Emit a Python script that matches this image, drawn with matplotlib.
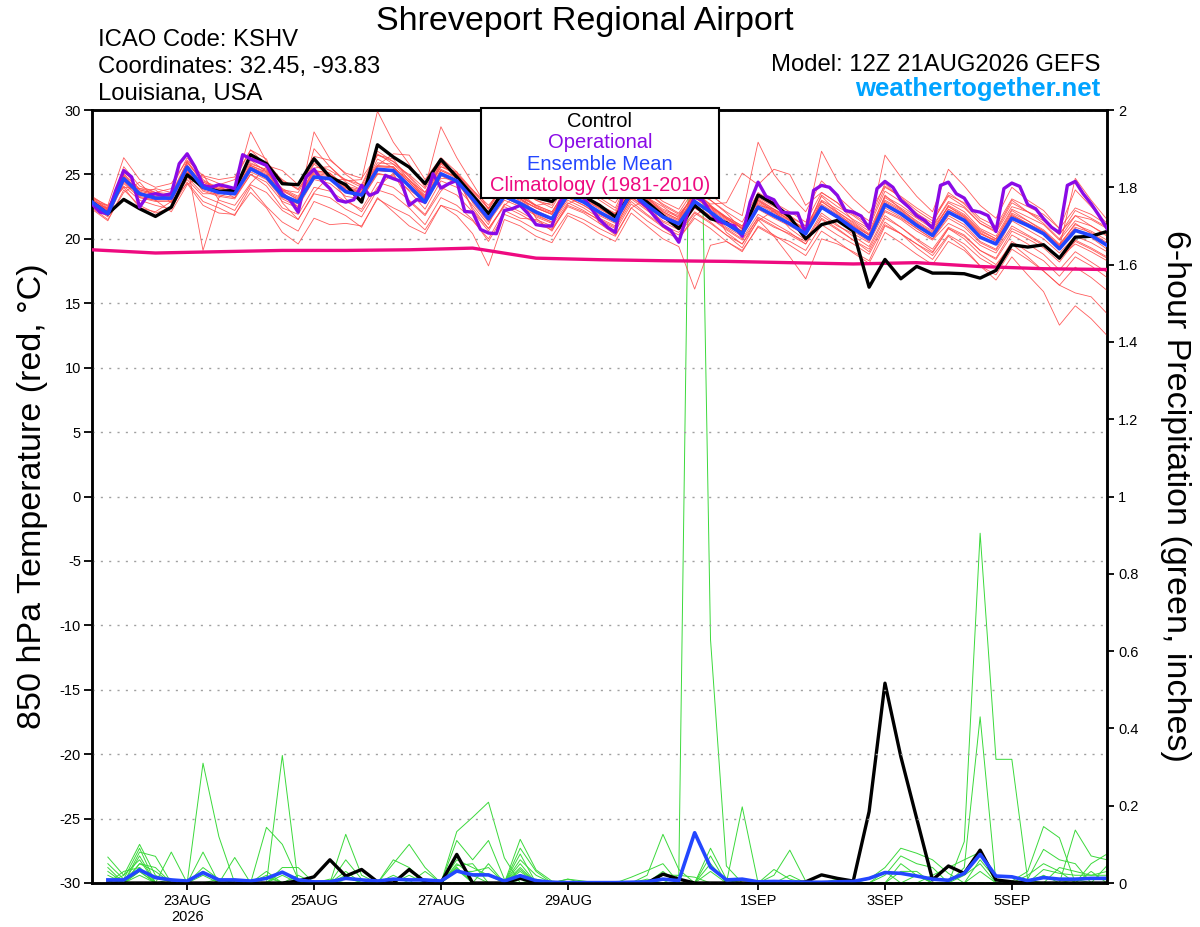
import matplotlib
matplotlib.use('Agg')
import matplotlib.pyplot as plt
from matplotlib.patches import Rectangle
from datetime import datetime, timedelta

plt.rcParams['font.family'] = ['Liberation Sans', 'DejaVu Sans']
plt.rcParams['axes.unicode_minus'] = False

# ---------------- data ----------------
run_start = datetime(2026, 8, 21, 12)
n_6h = 65      # 6-hourly steps (ensemble, control, mean)
n_3h = 129     # 3-hourly steps (operational)
n_day = 17     # daily climatology

# Ensemble mean 850 hPa temperature (C), 6-hourly
mean_temp = [22.85, 21.95, 24.67, 23.5, 23.16, 23.16, 25.57, 24.0, 23.6, 23.5, 25.44, 24.8,
             23.37, 22.85, 24.8, 24.67, 23.65, 23.4, 25.4, 25.3, 24.1, 22.85, 25.05, 24.5,
             23.1, 21.56, 23.3, 22.75, 22.07, 21.56, 23.4, 22.85, 22.07, 21.4, 23.6, 22.6,
             21.7, 21.17, 22.9, 22.07, 21.17, 20.4, 22.46, 21.8, 21.17, 20.4, 22.46, 21.7,
             20.8, 20.0, 22.65, 21.95, 21.04, 20.26, 22.07, 21.43, 20.13, 19.6, 21.6, 21.04,
             20.4, 19.23, 20.65, 20.26, 19.5]

# Control member temperature, 6-hourly
control_temp = [22.85, 21.95, 23.06, 22.34, 21.74, 22.46, 24.97, 24.0, 23.68, 23.76, 26.53, 25.83,
                24.28, 24.2, 26.22, 24.8, 24.2, 22.85, 27.3, 26.35, 25.57, 24.28, 26.16, 24.8,
                23.37, 21.95, 23.8, 23.5, 23.2, 22.9, 24.0, 23.3, 22.6, 21.7, 23.5, 22.85,
                21.8, 20.8, 22.6, 21.56, 21.25, 20.4, 23.4, 22.7, 21.7, 20.0, 21.1, 21.43,
                20.6, 16.25, 18.4, 16.9, 17.86, 17.34, 17.34, 17.29, 16.95, 17.55, 19.54, 19.36,
                19.54, 18.5, 20.13, 20.2, 20.57]

# Operational run temperature, 3-hourly
oper_temp = [22.72, 22.07, 21.95, 23.76, 25.3, 24.8, 22.46, 23.37, 23.5, 23.37, 23.5, 25.83,
             26.6, 25.57, 24.15, 24.0, 24.2, 24.07, 23.9, 26.53, 26.2, 25.96, 25.7, 24.67,
             23.5, 23.0, 22.07, 24.8, 25.4, 24.5, 23.9, 23.0, 22.85, 23.03, 24.15, 23.37,
             23.63, 24.92, 24.67, 24.46, 22.6, 23.06, 22.85, 25.05, 23.94, 24.28, 24.53, 22.13,
             22.07, 20.73, 20.45, 20.4, 22.2, 22.34, 22.6, 21.95, 21.1, 21.0, 21.0, 22.85,
             23.5, 23.8, 23.2, 22.34, 21.5, 20.9, 20.5, 23.8, 24.5, 23.0, 22.46, 21.7,
             21.04, 20.65, 19.74, 21.8, 23.24, 23.0, 22.07, 21.35, 21.17, 21.0, 20.2, 22.85,
             24.4, 23.3, 23.03, 22.07, 22.0, 22.0, 20.4, 23.76, 24.15, 24.0, 23.37, 22.2,
             22.07, 21.77, 20.8, 23.9, 24.46, 24.0, 23.0, 22.46, 21.8, 21.43, 20.83, 24.15,
             24.4, 23.5, 23.16, 22.2, 22.07, 21.8, 20.57, 23.9, 24.33, 24.07, 22.65, 22.34,
             21.56, 20.9, 20.47, 24.15, 24.46, 23.5, 22.72, 21.8, 20.8]

# Climatology (1981-2010), daily
clim_temp = [19.15, 18.9, 19.0, 19.1, 19.1, 19.15, 19.28, 18.5, 18.38, 18.3, 18.25, 18.15,
             18.05, 18.15, 17.85, 17.68, 17.62]

# Individual ensemble members (temperature, 6-hourly)
ens01 = [22.6, 21.8, 24.9, 23.2, 23.0, 23.4, 25.8, 19.1, 23.2, 23.9, 28.3, 26.0, 24.5, 23.9, 25.3, 25.1,
         24.0, 23.6, 26.2, 25.5, 24.6, 23.2, 25.8, 24.9, 23.5, 22.0, 24.1, 23.4, 22.5, 22.0, 24.3, 23.5,
         22.6, 22.0, 24.5, 23.2, 22.1, 21.5, 23.8, 22.6, 21.6, 20.9, 23.1, 22.3, 21.4, 20.7, 23.3, 22.1,
         21.2, 20.3, 23.4, 22.3, 21.3, 20.5, 22.6, 21.9, 20.7, 20.0, 22.2, 21.4, 20.6, 19.5, 21.2, 20.4, 19.6]
ens02 = [22.9, 22.2, 25.3, 23.8, 23.5, 23.0, 26.0, 24.4, 23.9, 23.7, 26.1, 25.2, 23.8, 23.0, 25.5, 25.6,
         24.5, 24.6, 29.9, 27.5, 25.8, 24.0, 28.7, 26.3, 24.3, 22.3, 24.2, 23.1, 22.4, 21.9, 23.9, 23.0,
         22.4, 21.5, 24.0, 22.8, 21.9, 21.3, 23.4, 22.5, 21.6, 20.8, 23.0, 22.1, 21.2, 20.5, 22.9, 22.0,
         21.0, 20.1, 23.2, 22.4, 21.6, 20.8, 22.5, 21.7, 20.5, 19.8, 21.9, 21.2, 20.6, 19.4, 20.8, 20.1, 19.2]
ens03 = [23.1, 22.3, 24.5, 23.6, 23.3, 23.5, 25.2, 24.2, 24.1, 23.4, 25.8, 25.4, 23.5, 22.5, 28.3, 26.2,
         25.0, 24.1, 26.5, 26.0, 24.8, 23.4, 25.9, 25.1, 23.7, 22.4, 24.6, 23.9, 23.0, 22.6, 24.8, 24.0,
         23.2, 22.4, 25.0, 23.9, 22.9, 22.3, 24.2, 23.4, 22.5, 21.8, 27.5, 25.0, 23.4, 22.1, 24.5, 23.3,
         22.2, 21.4, 24.3, 23.1, 22.0, 21.2, 23.6, 22.7, 21.4, 20.7, 23.0, 22.1, 21.2, 20.0, 21.8, 21.0, 20.2]
ens04 = [22.3, 21.4, 23.8, 22.6, 22.0, 22.4, 24.4, 22.9, 22.4, 21.8, 24.0, 22.5, 21.3, 20.6, 22.9, 22.4,
         21.8, 20.9, 23.2, 22.1, 21.0, 20.4, 22.6, 21.8, 20.4, 17.9, 21.5, 21.0, 20.2, 19.7, 21.8, 21.2,
         20.4, 19.8, 22.0, 21.0, 20.0, 19.4, 16.1, 19.5, 19.8, 19.0, 21.0, 20.3, 19.5, 18.7, 20.6, 19.8,
         18.9, 18.1, 20.5, 19.7, 18.8, 18.0, 19.8, 19.1, 17.9, 17.2, 19.2, 18.4, 17.5, 16.4, 17.8, 17.0, 16.0]
ens05 = [23.2, 22.6, 26.3, 24.6, 24.0, 24.3, 26.1, 24.9, 24.6, 24.8, 26.9, 25.7, 25.3, 24.2, 26.4, 26.1,
         25.1, 24.7, 26.5, 26.2, 24.5, 23.6, 25.6, 25.2, 23.8, 22.6, 24.0, 23.2, 21.7, 21.2, 23.0, 22.4,
         21.6, 21.0, 23.1, 22.2, 21.3, 20.7, 22.4, 21.6, 20.8, 20.0, 21.9, 21.2, 20.5, 19.6, 21.6, 20.8,
         19.9, 19.0, 21.3, 20.4, 19.3, 18.4, 20.2, 19.3, 17.9, 16.8, 18.6, 17.2, 15.9, 13.3, 14.8, 13.8, 12.5]
ens06 = [22.4, 21.5, 23.6, 24.4, 23.0, 22.1, 24.2, 25.0, 23.0, 22.6, 24.3, 25.6, 22.8, 21.5, 23.6, 24.9,
         23.1, 22.1, 24.0, 25.1, 22.9, 21.8, 23.7, 24.9, 22.2, 20.8, 22.6, 23.6, 21.6, 20.6, 22.7, 23.3,
         21.2, 20.3, 22.4, 23.1, 20.9, 20.0, 21.8, 22.6, 20.5, 19.6, 21.4, 22.2, 20.8, 19.9, 22.0, 21.1,
         20.2, 19.4, 21.8, 20.9, 19.9, 19.0, 20.8, 20.0, 18.8, 18.0, 19.6, 18.6, 17.5, 16.4, 15.8, 15.5, 14.2]
ens07 = [22.7, 22.1, 24.8, 23.6, 23.2, 23.1, 25.7, 24.2, 23.7, 23.6, 25.6, 25.0, 23.5, 22.9, 25.0, 24.8,
         23.8, 23.6, 25.6, 25.6, 24.4, 23.1, 25.3, 24.8, 23.4, 22.0, 23.8, 23.2, 22.6, 22.1, 23.9, 23.3,
         22.5, 21.9, 24.1, 23.1, 22.2, 21.7, 23.5, 22.6, 21.7, 21.0, 23.2, 22.5, 21.8, 21.0, 26.8, 24.5,
         23.1, 22.0, 24.1, 23.2, 22.2, 21.4, 23.3, 22.5, 21.2, 20.6, 22.8, 22.1, 21.4, 20.3, 22.2, 21.6, 20.9]
ens08 = [22.9, 22.6, 24.0, 22.4, 22.1, 22.9, 24.3, 22.6, 22.0, 21.9, 23.6, 22.4, 20.5, 19.6, 21.6, 21.1,
         21.2, 21.0, 23.1, 22.4, 21.8, 20.7, 22.6, 22.2, 21.4, 20.0, 22.2, 21.6, 21.5, 21.0, 22.8, 22.2,
         21.4, 20.8, 22.9, 21.9, 21.0, 20.5, 22.1, 21.3, 20.3, 19.3, 21.5, 20.2, 18.6, 16.9, 20.0, 19.6,
         19.0, 18.3, 21.0, 20.4, 19.6, 18.9, 20.8, 20.2, 19.1, 18.5, 20.6, 20.0, 19.3, 18.2, 19.8, 19.2, 18.5]
ens09 = [23.2, 22.4, 25.0, 23.9, 23.6, 23.5, 26.0, 24.5, 24.0, 23.9, 25.9, 25.3, 23.9, 23.3, 25.3, 25.1,
         24.1, 23.8, 25.9, 25.8, 24.6, 23.3, 25.6, 25.0, 23.6, 22.1, 23.9, 23.3, 22.6, 22.1, 24.0, 23.4,
         22.6, 21.9, 24.2, 23.2, 22.3, 21.8, 23.5, 22.7, 22.8, 25.1, 24.2, 25.4, 25.0, 22.6, 23.6, 22.8,
         21.4, 20.6, 23.3, 22.6, 21.7, 20.9, 22.8, 22.1, 20.8, 20.2, 22.3, 21.7, 21.1, 19.9, 21.4, 21.0, 20.3]
ens10 = [22.6, 21.7, 24.3, 23.2, 22.9, 22.9, 25.2, 23.7, 23.3, 23.1, 25.0, 24.4, 22.9, 22.4, 27.0, 25.6,
         24.4, 23.8, 26.6, 25.8, 25.0, 23.9, 26.0, 24.7, 22.4, 20.8, 22.5, 21.9, 21.2, 20.7, 22.5, 22.0,
         21.2, 20.6, 22.7, 21.8, 20.9, 20.3, 22.0, 21.2, 20.3, 19.6, 21.7, 21.0, 20.3, 19.6, 21.5, 20.7,
         19.9, 19.2, 21.6, 20.9, 20.0, 19.2, 20.9, 20.3, 19.1, 18.4, 20.3, 19.6, 18.8, 17.6, 19.0, 18.2, 17.4]
ens11 = [22.8, 22.1, 24.9, 23.5, 23.3, 23.3, 25.5, 24.1, 23.6, 23.5, 25.6, 24.9, 23.3, 22.8, 24.9, 24.6,
         23.6, 23.4, 25.3, 25.2, 24.0, 22.7, 24.9, 24.3, 22.9, 21.4, 23.2, 22.6, 21.9, 21.3, 23.2, 22.6,
         21.8, 21.2, 23.3, 22.3, 21.4, 20.9, 22.6, 21.8, 20.9, 20.2, 22.3, 21.6, 21.0, 20.3, 22.4, 21.6,
         20.6, 19.8, 22.4, 21.7, 20.8, 20.0, 21.8, 21.1, 19.8, 19.2, 21.4, 20.7, 20.0, 18.9, 20.2, 19.7, 19.0]
ens12 = [22.7, 21.9, 24.5, 23.4, 23.2, 23.2, 25.4, 23.9, 24.2, 24.6, 26.9, 26.2, 23.2, 22.7, 24.7, 24.6,
         24.6, 24.0, 25.7, 26.6, 26.5, 24.6, 26.3, 25.2, 22.8, 21.3, 23.0, 22.5, 21.8, 21.3, 23.2, 22.6,
         21.9, 21.3, 23.6, 22.7, 21.8, 21.2, 23.2, 22.4, 21.5, 20.8, 23.0, 22.3, 21.7, 21.0, 23.0, 22.3,
         21.5, 20.8, 26.5, 24.8, 23.3, 22.1, 25.4, 24.1, 22.6, 21.6, 24.0, 23.0, 22.2, 20.8, 23.8, 22.5, 21.2]
ens13 = [23.0, 22.2, 24.7, 23.7, 23.4, 23.3, 25.7, 24.2, 23.8, 23.7, 25.7, 25.1, 23.7, 23.1, 25.1, 24.9,
         23.9, 23.6, 25.6, 25.5, 24.4, 23.1, 25.3, 24.7, 23.3, 21.8, 23.6, 23.0, 22.4, 21.9, 23.7, 23.1,
         22.3, 21.7, 23.9, 23.0, 22.0, 21.4, 23.2, 22.3, 21.4, 20.6, 22.7, 22.0, 21.4, 20.6, 22.7, 21.9,
         21.1, 20.3, 22.9, 22.2, 21.2, 20.4, 22.3, 21.7, 20.4, 19.9, 21.8, 21.2, 20.5, 19.5, 20.9, 20.5, 19.7]
ens14 = [22.9, 22.0, 24.6, 23.5, 23.2, 23.3, 25.6, 24.0, 23.7, 23.5, 25.4, 24.8, 23.3, 22.8, 24.8, 24.6,
         23.6, 23.4, 25.3, 25.2, 24.1, 22.8, 25.0, 24.4, 23.0, 21.5, 23.3, 22.7, 22.0, 21.5, 23.3, 22.8,
         22.1, 21.5, 23.6, 22.6, 21.7, 21.1, 22.9, 22.1, 21.2, 20.4, 22.5, 21.8, 21.2, 20.4, 22.5, 21.8,
         21.0, 20.3, 22.8, 22.1, 21.2, 20.4, 22.3, 21.6, 20.4, 19.8, 21.8, 21.1, 20.4, 19.3, 24.7, 23.0, 21.5]
ens15 = [22.6, 21.8, 24.4, 23.3, 23.0, 23.0, 25.3, 23.8, 23.4, 23.2, 25.2, 24.6, 23.1, 22.5, 24.6, 24.3,
         23.3, 23.1, 25.0, 24.9, 23.7, 22.3, 24.5, 24.0, 22.6, 21.1, 23.8, 23.5, 22.6, 22.8, 25.6, 24.6,
         23.5, 22.8, 24.7, 23.6, 22.6, 21.9, 23.3, 22.5, 21.7, 21.0, 22.8, 22.1, 21.5, 20.8, 22.6, 21.8,
         20.9, 20.1, 22.2, 21.6, 20.8, 20.0, 21.6, 20.9, 19.7, 19.1, 21.0, 20.3, 19.6, 18.5, 19.6, 19.0, 18.3]
ens16 = [23.1, 22.3, 24.8, 23.8, 23.5, 23.4, 25.9, 24.4, 23.9, 23.8, 25.7, 25.2, 23.8, 23.2, 25.2, 25.0,
         24.0, 23.7, 25.7, 25.6, 24.4, 23.2, 25.4, 24.8, 23.4, 21.9, 23.7, 23.1, 22.4, 21.9, 23.8, 23.2,
         22.4, 21.8, 24.0, 23.0, 22.1, 21.5, 23.3, 22.5, 21.6, 20.8, 22.9, 22.2, 21.5, 20.7, 22.9, 22.1,
         21.3, 20.4, 23.0, 22.3, 21.4, 20.6, 22.5, 21.8, 20.6, 20.0, 22.0, 21.4, 20.7, 19.6, 21.1, 20.6, 19.9]
ens17 = [22.4, 21.9, 25.6, 24.1, 23.6, 23.9, 26.3, 24.6, 23.8, 23.2, 25.0, 24.1, 22.4, 21.9, 24.0, 23.7,
         22.9, 22.3, 24.4, 24.0, 23.0, 21.9, 24.0, 23.4, 22.1, 20.6, 22.7, 22.1, 21.4, 20.8, 22.6, 22.1,
         21.5, 20.9, 23.2, 22.4, 21.6, 21.0, 22.4, 21.6, 20.7, 19.9, 21.6, 20.9, 20.4, 19.8, 21.8, 21.0,
         20.4, 19.7, 22.1, 21.5, 20.6, 19.9, 21.2, 20.6, 19.5, 18.9, 20.8, 20.2, 19.5, 18.4, 19.9, 19.3, 18.6]
ens18 = [23.3, 22.5, 24.1, 23.0, 22.6, 22.3, 24.8, 23.5, 23.5, 23.8, 26.4, 25.6, 24.6, 23.8, 25.9, 25.3,
         24.6, 24.2, 26.8, 26.0, 24.9, 23.6, 25.9, 25.0, 23.8, 22.3, 24.4, 23.8, 23.0, 22.4, 24.5, 23.9,
         23.0, 22.2, 24.6, 23.6, 22.7, 22.0, 23.9, 23.0, 22.1, 21.3, 23.6, 22.8, 22.1, 21.3, 23.6, 22.8,
         21.9, 21.1, 24.0, 23.3, 22.4, 21.6, 23.4, 22.8, 21.6, 21.0, 23.1, 22.5, 21.9, 20.8, 22.4, 21.9, 21.1]
ens19 = [22.8, 22.4, 24.0, 23.9, 23.8, 22.8, 24.6, 23.3, 22.8, 22.2, 24.2, 23.6, 22.2, 21.5, 23.5, 23.2,
         22.3, 21.7, 23.8, 23.4, 22.4, 21.1, 23.2, 22.6, 21.5, 19.8, 21.9, 21.4, 20.7, 20.2, 22.0, 21.5,
         20.8, 20.2, 22.4, 21.4, 20.6, 20.0, 21.6, 20.8, 19.8, 19.1, 20.9, 20.2, 19.8, 19.1, 21.1, 20.3,
         19.6, 18.8, 21.1, 20.4, 19.6, 18.7, 20.3, 19.6, 18.5, 17.8, 19.8, 19.0, 18.3, 17.1, 18.6, 17.9, 17.0]
ens20 = [22.9, 22.3, 25.1, 23.4, 23.9, 23.6, 25.1, 24.8, 24.3, 23.6, 25.5, 24.8, 23.8, 23.6, 25.8, 24.9,
         23.8, 23.1, 25.1, 24.8, 23.8, 22.9, 24.7, 24.6, 23.4, 21.9, 23.8, 22.9, 22.2, 21.6, 23.6, 23.2,
         22.7, 21.6, 23.4, 23.2, 22.5, 21.6, 23.6, 23.0, 22.0, 20.7, 22.6, 22.3, 21.6, 20.6, 23.4, 22.5,
         21.8, 20.9, 23.7, 22.9, 21.9, 21.0, 22.9, 22.4, 21.2, 20.5, 22.5, 22.1, 21.6, 20.4, 21.8, 21.5, 20.8]
ensemble_temp = [ens01, ens02, ens03, ens04, ens05, ens06, ens07, ens08, ens09, ens10,
                 ens11, ens12, ens13, ens14, ens15, ens16, ens17, ens18, ens19, ens20]

# 6-hour precipitation (inches), steps 1..64
mean_precip = [0.008, 0.008, 0.034, 0.014, 0.008, 0.005, 0.027, 0.008, 0.008, 0.005, 0.012, 0.028,
               0.008, 0.003, 0.003, 0.012, 0.008, 0.005, 0.010, 0.008, 0.008, 0.005, 0.031, 0.021,
               0.021, 0.005, 0.019, 0.006, 0.002, 0.001, 0.001, 0.001, 0.001, 0.002, 0.003, 0.010,
               0.006, 0.130, 0.041, 0.008, 0.010, 0.003, 0.004, 0.003, 0.002, 0.002, 0.003, 0.004,
               0.012, 0.027, 0.025, 0.018, 0.010, 0.007, 0.025, 0.074, 0.018, 0.016, 0.006, 0.014,
               0.010, 0.010, 0.012, 0.012]
control_precip = [0, 0, 0, 0, 0, 0, 0, 0, 0, 0, 0, 0,
                  0.005, 0.016, 0.06, 0.018, 0.035, 0.003, 0, 0.035, 0.003, 0, 0.074, 0,
                  0, 0, 0.012, 0, 0, 0, 0, 0, 0, 0, 0, 0.023,
                  0.01, 0, 0, 0, 0, 0, 0, 0, 0.003, 0.021, 0.012, 0.005,
                  0.185, 0.517, 0.327, 0.167, 0.008, 0.044, 0.025, 0.085, 0.008, 0.003, 0, 0,
                  0, 0, 0, 0]

# ensemble member precipitation, {step: inches}; steps not listed are dry
gp01 = {1: 0.067, 2: 0.02, 3: 0.10, 4: 0.02, 7: 0.03, 16: 0.03, 27: 0.113, 28: 0.034, 29: 0.005,
        39: 0.09, 40: 0.01, 60: 0.035, 61: 0.025, 62: 0.02, 63: 0.02, 64: 0.02}
gp02 = {1: 0.05, 2: 0.01, 3: 0.09, 5: 0.01, 11: 0.03, 23: 0.06, 24: 0.04, 25: 0.02, 39: 0.07, 41: 0.197}
gp03 = {1: 0.03, 3: 0.08, 4: 0.069, 12: 0.04, 13: 0.04, 27: 0.09, 28: 0.03, 41: 0.01,
        62: 0.137, 63: 0.07, 64: 0.06}
gp04 = {1: 0.01, 3: 0.07, 19: 0.06, 20: 0.04, 27: 0.075, 43: 0.035, 44: 0.01, 63: 0.05, 64: 0.075}
gp05 = {2: 0.02, 3: 0.06, 11: 0.015, 21: 0.03, 27: 0.06, 28: 0.02, 43: 0.02, 44: 0.085, 45: 0.005}
gp06 = {3: 0.05, 4: 0.04, 12: 0.02, 23: 0.04, 30: 0.01, 31: 0.005, 47: 0.01}
gp07 = {3: 0.03, 15: 0.01, 23: 0.04, 30: 0.01, 49: 0.01, 50: 0.04, 51: 0.09, 52: 0.077, 53: 0.06, 54: 0.025}
gp08 = {3: 0.02, 16: 0.126, 17: 0.02, 34: 0.015, 35: 0.032, 36: 0.05, 50: 0.02, 51: 0.07, 52: 0.05, 53: 0.04}
gp09 = {5: 0.08, 16: 0.06, 17: 0.01, 27: 0.05, 39: 0.05, 51: 0.03, 52: 0.03}
gp10 = {7: 0.31, 8: 0.12, 27: 0.03, 53: 0.02, 54: 0.04, 55: 0.06, 56: 0.08}
gp11 = {7: 0.08, 19: 0.05, 20: 0.10, 21: 0.04, 55: 0.107, 56: 0.905, 57: 0.32, 58: 0.32, 59: 0.008}
gp12 = {7: 0.04, 8: 0.01, 23: 0.133, 24: 0.17, 25: 0.209, 26: 0.065, 55: 0.04, 56: 0.43}
gp13 = {9: 0.066, 23: 0.11, 24: 0.06, 25: 0.11, 26: 0.01, 56: 0.06, 57: 0.01}
gp14 = {11: 0.144, 12: 0.10, 13: 0.01, 35: 0.02, 36: 0.126, 37: 0.035, 58: 0.005, 59: 0.03,
        60: 0.146, 61: 0.117}
gp15 = {12: 0.33, 36: 0.02, 37: 0.02, 38: 0.015, 59: 0.01, 60: 0.087, 61: 0.06, 62: 0.05}
gp16 = {23: 0.03, 24: 0.03, 25: 0.04, 37: 0.02, 38: 3.0, 39: 0.63, 40: 0.044}
gp17 = {1: 0.04, 3: 0.05, 4: 0.03, 13: 0.02, 23: 0.05, 24: 0.02, 27: 0.04, 36: 0.03, 51: 0.05, 52: 0.02,
        61: 0.04, 62: 0.03, 63: 0.02, 64: 0.03}
gp18 = {2: 0.03, 3: 0.04, 7: 0.02, 11: 0.02, 16: 0.02, 20: 0.02, 23: 0.07, 25: 0.05, 27: 0.02, 39: 0.03,
        55: 0.02, 56: 0.05, 60: 0.02, 62: 0.01, 64: 0.045}
gp19 = {3: 0.03, 12: 0.03, 19: 0.02, 23: 0.045, 24: 0.05, 28: 0.01, 35: 0.01, 50: 0.03, 56: 0.03, 63: 0.03}
gp20 = {1: 0.02, 3: 0.04, 8: 0.01, 16: 0.015, 23: 0.035, 27: 0.035, 44: 0.02, 52: 0.02, 59: 0.02,
        60: 0.05, 61: 0.03}
ensemble_precip = [gp01, gp02, gp03, gp04, gp05, gp06, gp07, gp08, gp09, gp10,
                   gp11, gp12, gp13, gp14, gp15, gp16, gp17, gp18, gp19, gp20]

temp_ticks = [30, 25, 20, 15, 10, 5, 0, -5, -10, -15, -20, -25, -30]
precip_ticks = [0, 0.2, 0.4, 0.6, 0.8, 1.0, 1.2, 1.4, 1.6, 1.8, 2.0]
precip_ticklabels = ['0', '0.2', '0.4', '0.6', '0.8', '1', '1.2', '1.4', '1.6', '1.8', '2']
date_ticks = [datetime(2026, 8, 23), datetime(2026, 8, 25), datetime(2026, 8, 27), datetime(2026, 8, 29),
              datetime(2026, 9, 1), datetime(2026, 9, 3), datetime(2026, 9, 5)]
date_ticklabels = ['23AUG\n2026', '25AUG', '27AUG', '29AUG', '1SEP', '3SEP', '5SEP']

# time axes
t6 = [run_start + timedelta(hours=6 * i) for i in range(n_6h)]
t3 = [run_start + timedelta(hours=3 * j) for j in range(n_3h)]
t24 = [run_start + timedelta(days=d) for d in range(n_day)]

# ---------------- styling ----------------
C_RED = '#ff4a4a'
C_GREEN = '#3bd93b'
C_PURPLE = '#8a0ae6'
C_BLUE = '#2346ff'
C_MAGENTA = '#ee0a80'
C_SITE = '#00a3ff'

W, H = 1200, 927
L, R, T, B = 92, 1107, 110, 883

fig = plt.figure(figsize=(W / 100, H / 100), dpi=100)
fig.patch.set_facecolor('white')
ax = fig.add_axes([L / W, 1 - B / H, (R - L) / W, (B - T) / H])
ax2 = ax.twinx()
ax.set_zorder(ax2.get_zorder() + 1)
ax.patch.set_visible(False)

# precipitation (right axis)
for mem in ensemble_precip:
    vals = [mem.get(i, 0.0) for i in range(1, n_6h)]
    ax2.plot(t6[1:], vals, color=C_GREEN, lw=0.7, zorder=2)
ax2.plot(t6[1:], control_precip, color='black', lw=2.4, zorder=3)
ax2.plot(t6[1:], mean_precip, color=C_BLUE, lw=2.6, zorder=4)

# temperature (left axis)
for mem in ensemble_temp:
    ax.plot(t6, mem, color=C_RED, lw=0.6, alpha=0.9, zorder=2)
ax.plot(t24, clim_temp, color=C_MAGENTA, lw=2.4, zorder=3)
ax.plot(t6, control_temp, color='black', lw=2.4, zorder=4)
ax.plot(t3, oper_temp, color=C_PURPLE, lw=2.4, zorder=5)
ax.plot(t6, mean_temp, color=C_BLUE, lw=2.6, zorder=6)

# axes settings
ax.set_xlim(t6[0], t6[-1])
ax.set_ylim(-30, 30)
ax2.set_ylim(0, 2)
ax.set_yticks(temp_ticks)
ax.set_yticklabels([str(v) for v in temp_ticks])
ax2.set_yticks(precip_ticks)
ax2.set_yticklabels(precip_ticklabels)
ax.set_xticks(date_ticks)
ax.set_xticklabels(date_ticklabels, linespacing=1.15)

ax.grid(axis='y', color='#a0a0a0', linestyle=(0, (1.5, 4.5)), linewidth=1.0)
ax.grid(axis='x', visible=False)

for a in (ax, ax2):
    for s in a.spines.values():
        s.set_linewidth(1.8)
        s.set_color('black')

ax.tick_params(axis='x', direction='out', length=5, width=1.3, pad=3, labelsize=10.5)
ax.tick_params(axis='y', direction='out', length=6, width=1.3, pad=2, labelsize=10.5)
ax2.tick_params(axis='y', direction='out', length=5, width=1.3, pad=3, labelsize=10.5)

# axis titles
fig.text(33 / W, 1 - 496 / H, '850 hPa Temperature (red, \u00b0C)', rotation=90,
         ha='center', va='center', fontsize=24.5)
fig.text(1175 / W, 1 - 496 / H, '6-hour Precipitation (green, inches)', rotation=-90,
         ha='center', va='center', fontsize=24.5)

# header texts
fig.text(585 / W, 1 - 30 / H, 'Shreveport Regional Airport', ha='center', va='baseline', fontsize=24.5)
fig.text(98 / W, 1 - 46 / H, 'ICAO Code: KSHV', ha='left', va='baseline', fontsize=17.2)
fig.text(98 / W, 1 - 73 / H, 'Coordinates: 32.45, -93.83', ha='left', va='baseline', fontsize=17.2)
fig.text(98 / W, 1 - 100 / H, 'Louisiana, USA', ha='left', va='baseline', fontsize=17.2)
fig.text(1100 / W, 1 - 71 / H, 'Model: 12Z 21AUG2026 GEFS', ha='right', va='baseline', fontsize=17.2)
fig.text(1100 / W, 1 - 96 / H, 'weathertogether.net', ha='right', va='baseline', fontsize=18.5,
         fontweight='bold', color=C_SITE)

# legend box
box = Rectangle((481 / W, 1 - 198 / H), (719 - 481) / W, (198 - 108) / H, transform=fig.transFigure,
                facecolor='white', edgecolor='black', linewidth=1.5, zorder=10)
fig.add_artist(box)
legend_items = [('Control', 'black', 126.5), ('Operational', C_PURPLE, 148),
                ('Ensemble Mean', C_BLUE, 169.5), ('Climatology (1981-2010)', C_MAGENTA, 191)]
for label, col, yb in legend_items:
    fig.text(600 / W, 1 - yb / H, label, ha='center', va='baseline', fontsize=14.5, color=col, zorder=11)

fig.savefig('out.png', dpi=100, facecolor='white')
